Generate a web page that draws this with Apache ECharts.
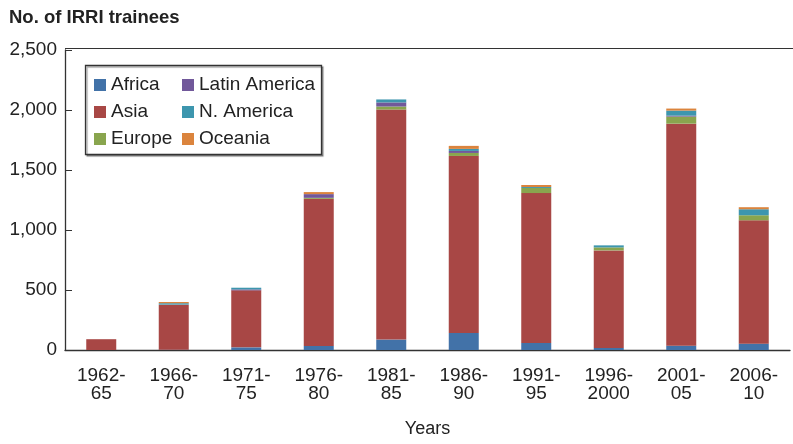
<!DOCTYPE html>
<html>
<head>
<meta charset="utf-8">
<script src="https://cdn.jsdelivr.net/npm/echarts@6/dist/echarts.min.js"></script>
<style>html,body{margin:0;padding:0;background:#fff}#c{width:793px;height:444px}</style>
</head>
<body>
<div id="c"></div>
<script>
const categories = ['1962-\n65','1966-\n70','1971-\n75','1976-\n80','1981-\n85','1986-\n90','1991-\n95','1996-\n2000','2001-\n05','2006-\n10'];
const africa       = [0, 3, 22, 34, 87, 142, 59, 17, 36, 53];
const asia         = [90, 375, 475, 1226, 1917, 1475, 1249, 813, 1850, 1028];
const europe       = [0, 0, 0, 8, 25, 25, 42, 25, 59, 42];
const latinAmerica = [0, 0, 8, 31, 34, 17, 0, 0, 8, 0];
const nAmerica     = [0, 12, 14, 0, 25, 17, 8, 17, 42, 50];
const oceania      = [0, 10, 0, 17, 0, 25, 17, 0, 17, 17];
const yTicks = [0, 500, 1000, 1500, 2000, 2500];

const seriesDefs = [
  {name: 'Africa', data: africa, color: '#4272a8'},
  {name: 'Asia', data: asia, color: '#a84745'},
  {name: 'Europe', data: europe, color: '#89a54e'},
  {name: 'Latin America', data: latinAmerica, color: '#71589a'},
  {name: 'N. America', data: nAmerica, color: '#3d96ae'},
  {name: 'Oceania', data: oceania, color: '#db843d'}
];

const font = 'Liberation Sans, Arial, Helvetica, sans-serif';
const chart = echarts.init(document.getElementById('c'), null, {renderer: 'canvas'});
const legendCommon = {
  orient: 'vertical', top: 75, itemWidth: 12, itemHeight: 12, itemGap: 7, padding: 0,
  icon: 'rect', selectedMode: false,
  textStyle: {fontFamily: font, fontSize: 19, color: '#222', lineHeight: 20, padding: [0,0,0,0]}
};
chart.setOption({
  animation: false,
  title: {text: 'No. of IRRI trainees', left: 9, top: 8, padding: 0,
    textStyle: {fontFamily: font, fontSize: 18.5, fontWeight: 'bold', color: '#222'}},
  legend: [
    Object.assign({left: 94, data: ['Africa','Asia','Europe']}, legendCommon),
    Object.assign({left: 182, data: ['Latin America','N. America','Oceania']}, legendCommon)
  ],
  grid: {left: 65, right: 3, top: 50, bottom: 94},
  xAxis: {
    type: 'category', data: categories, boundaryGap: true,
    axisLine: {lineStyle: {color: '#333', width: 1.3}},
    axisTick: {inside: true, length: 7, lineStyle: {color: '#333'}},
    axisLabel: {fontFamily: font, fontSize: 19, color: '#222', lineHeight: 18, margin: 17, interval: 0},
    name: 'Years', nameLocation: 'middle', nameGap: 70,
    nameTextStyle: {fontFamily: font, fontSize: 18, color: '#222'}
  },
  yAxis: {
    type: 'value', min: yTicks[0], max: yTicks[yTicks.length-1], interval: 500,
    axisLine: {show: true, lineStyle: {color: '#333', width: 1.3}},
    axisTick: {show: true, inside: true, length: 7, lineStyle: {color: '#333'}},
    splitLine: {show: false},
    axisLabel: {fontFamily: font, fontSize: 19, color: '#222', margin: 8,
      formatter: v => v.toLocaleString('en-US')}
  },
  graphic: [
    {type: 'line', shape: {x1: 65, y1: 48.5, x2: 793, y2: 48.5}, style: {stroke: '#333', lineWidth: 1.2}, z: 10},
    {type: 'rect', shape: {x: 85.5, y: 65.5, width: 236, height: 89}, z: -1,
      style: {fill: '#fff', stroke: '#333', lineWidth: 1.3, shadowColor: 'rgba(0,0,0,0.35)', shadowOffsetX: 1.5, shadowOffsetY: 1.5, shadowBlur: 1}}
  ],
  series: seriesDefs.map(s => ({
    name: s.name, type: 'bar', stack: 'total', data: s.data, barWidth: 30,
    itemStyle: {color: s.color}
  }))
});
</script>
</body>
</html>
